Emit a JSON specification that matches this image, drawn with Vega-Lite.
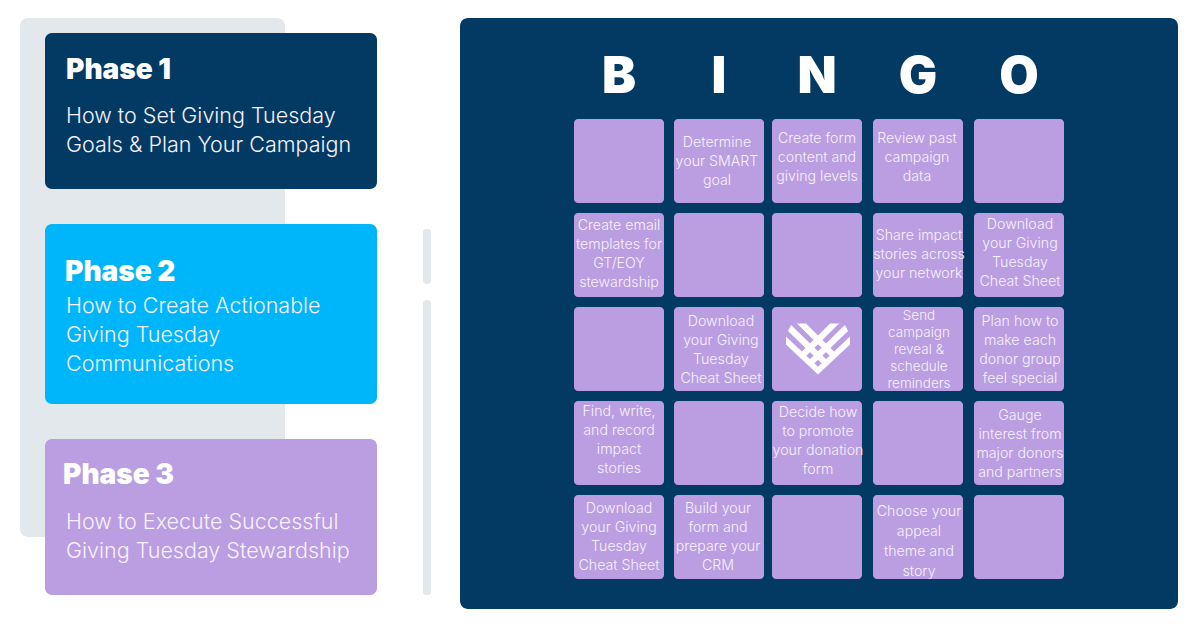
{
  "$schema": "https://vega.github.io/schema/vega-lite/v6.json",
  "width": 1200,
  "height": 628,
  "padding": 0,
  "autosize": {"type": "fit", "contains": "padding"},
  "background": "#ffffff",
  "config": {"view": {"stroke": null}},
  "datasets": {
    "unit": [{"from": 0, "to": 1}],
    "rails": [{"from": 0, "to": 1}, {"from": 2, "to": 3}],
    "phases": [
      {"phase": 1, "span": 1, "lines": 2, "heading": "Phase 1", "body": "How to Set Giving Tuesday\nGoals & Plan Your Campaign"},
      {"phase": 2, "span": 1, "lines": 3, "heading": "Phase 2", "body": "How to Create Actionable\nGiving Tuesday\nCommunications"},
      {"phase": 3, "span": 1, "lines": 2, "heading": "Phase 3", "body": "How to Execute Successful\nGiving Tuesday Stewardship"}
    ],
    "letters": [
      {"col": 1, "row": 0, "letter": "B"},
      {"col": 2, "row": 0, "letter": "I"},
      {"col": 3, "row": 0, "letter": "N"},
      {"col": 4, "row": 0, "letter": "G"},
      {"col": 5, "row": 0, "letter": "O"}
    ],
    "cells": [
      {"col": 1, "row": 1}, {"col": 2, "row": 1}, {"col": 3, "row": 1}, {"col": 4, "row": 1}, {"col": 5, "row": 1},
      {"col": 1, "row": 2}, {"col": 2, "row": 2}, {"col": 3, "row": 2}, {"col": 4, "row": 2}, {"col": 5, "row": 2},
      {"col": 1, "row": 3}, {"col": 2, "row": 3}, {"col": 3, "row": 3}, {"col": 4, "row": 3}, {"col": 5, "row": 3},
      {"col": 1, "row": 4}, {"col": 2, "row": 4}, {"col": 3, "row": 4}, {"col": 4, "row": 4}, {"col": 5, "row": 4},
      {"col": 1, "row": 5}, {"col": 2, "row": 5}, {"col": 3, "row": 5}, {"col": 4, "row": 5}, {"col": 5, "row": 5}
    ],
    "tasks": [
      {"col": 1.98, "row": 0.79, "lines": 3, "task": "Determine\nyour SMART\ngoal"},
      {"col": 3, "row": 0.745, "lines": 3, "task": "Create form\ncontent and\ngiving levels"},
      {"col": 3.99, "row": 0.745, "lines": 3, "task": "Review past\ncampaign\ndata"},
      {"col": 1, "row": 1.69, "lines": 4, "task": "Create email\ntemplates for\nGT/EOY\nstewardship"},
      {"col": 4.01, "row": 1.797, "lines": 3, "task": "Share impact\nstories across\nyour network"},
      {"col": 5.01, "row": 1.68, "lines": 4, "task": "Download\nyour Giving\nTuesday\nCheat Sheet"},
      {"col": 2.02, "row": 2.71, "lines": 4, "task": "Download\nyour Giving\nTuesday\nCheat Sheet"},
      {"col": 4.01, "row": 2.648, "lines": 5, "task": "Send\ncampaign\nreveal &\nschedule\nreminders"},
      {"col": 5.01, "row": 2.71, "lines": 4, "task": "Plan how to\nmake each\ndonor group\nfeel special"},
      {"col": 1, "row": 3.67, "lines": 4, "task": "Find, write,\nand record\nimpact\nstories"},
      {"col": 3.01, "row": 3.68, "lines": 4, "task": "Decide how\nto promote\nyour donation\nform"},
      {"col": 5.01, "row": 3.71, "lines": 4, "task": "Gauge\ninterest from\nmajor donors\nand partners"},
      {"col": 1, "row": 4.7, "lines": 4, "task": "Download\nyour Giving\nTuesday\nCheat Sheet"},
      {"col": 1.99, "row": 4.7, "lines": 4, "task": "Build your\nform and\nprepare your\nCRM"},
      {"col": 4.01, "row": 4.73, "lines": 4, "task": "Choose your\nappeal\ntheme and\nstory"}
    ],
    "logo": [{"col": 3, "row": 3}]
  },
  "resolve": {"scale": {"x": "independent", "y": "independent", "color": "independent", "size": "independent"}},
  "layer": [
    {
      "data": {"name": "unit"},
      "mark": {"type": "rect", "color": "#e3e8ec", "cornerRadius": 8},
      "encoding": {
        "x": {"field": "from", "type": "quantitative", "axis": null, "scale": {"domain": [0, 1], "range": [20, 285], "nice": false}},
        "x2": {"field": "to"},
        "y": {"field": "from", "type": "quantitative", "axis": null, "scale": {"domain": [0, 1], "range": [18, 537], "nice": false}},
        "y2": {"field": "to"}
      }
    },
    {
      "data": {"name": "rails"},
      "mark": {"type": "rect", "color": "#e3e8ec", "cornerRadius": 3},
      "encoding": {
        "x": {"datum": 0, "type": "quantitative", "axis": null, "scale": {"domain": [0, 1], "range": [423, 431], "nice": false}},
        "x2": {"datum": 1},
        "y": {"field": "from", "type": "quantitative", "axis": null, "scale": {"domain": [0, 1, 2, 3], "range": [229, 284, 300, 595], "nice": false}},
        "y2": {"field": "to"}
      }
    },
    {
      "data": {"name": "unit"},
      "mark": {"type": "rect", "color": "#033a63", "cornerRadius": 8},
      "encoding": {
        "x": {"field": "from", "type": "quantitative", "axis": null, "scale": {"domain": [0, 1], "range": [460, 1178], "nice": false}},
        "x2": {"field": "to"},
        "y": {"field": "from", "type": "quantitative", "axis": null, "scale": {"domain": [0, 1], "range": [18, 609], "nice": false}},
        "y2": {"field": "to"}
      }
    },
    {
      "data": {"name": "phases"},
      "mark": {"type": "bar", "orient": "horizontal", "cornerRadius": 7},
      "encoding": {
        "x": {"field": "span", "type": "quantitative", "axis": null, "scale": {"domain": [0, 1], "range": [45, 377], "nice": false}},
        "y": {"field": "phase", "type": "quantitative", "axis": null, "scale": {"domain": [1, 2, 3], "range": [111, 314, 517], "nice": false, "zero": false, "padding": 0}},
        "size": {"field": "lines", "type": "quantitative", "legend": null, "scale": {"domain": [2, 3], "range": [156, 180], "zero": false}},
        "color": {"field": "phase", "type": "nominal", "legend": null, "scale": {"domain": [1, 2, 3], "range": ["#033a63", "#00b6fb", "#bb9de2"]}}
      }
    },
    {
      "data": {"name": "phases"},
      "mark": {"type": "text", "align": "left", "baseline": "middle", "font": "Inter", "fontWeight": 900, "fontSize": 28, "color": "#ffffff"},
      "encoding": {
        "x": {"field": "phase", "type": "quantitative", "axis": null, "scale": {"domain": [1, 2, 3], "range": [66, 65, 63], "nice": false, "zero": false}},
        "y": {"field": "phase", "type": "quantitative", "axis": null, "scale": {"domain": [1, 2, 3], "range": [71, 273, 476], "nice": false, "zero": false}},
        "text": {"field": "heading", "type": "nominal"}
      }
    },
    {
      "data": {"name": "phases"},
      "mark": {"type": "text", "align": "left", "baseline": "middle", "font": "Inter", "fontWeight": 300, "fontSize": 21.5, "lineHeight": 29, "lineBreak": "\n", "color": "#f6f1fb"},
      "encoding": {
        "x": {"field": "span", "type": "quantitative", "axis": null, "scale": {"domain": [0, 1], "range": [0, 66], "nice": false}},
        "y": {"field": "phase", "type": "quantitative", "axis": null, "scale": {"domain": [1, 2, 3], "range": [117, 307, 523], "nice": false, "zero": false}},
        "text": {"field": "body", "type": "nominal"}
      }
    },
    {
      "data": {"name": "letters"},
      "mark": {"type": "text", "align": "center", "baseline": "middle", "font": "Inter", "fontWeight": 900, "fontSize": 51, "color": "#ffffff"},
      "encoding": {
        "x": {"field": "col", "type": "quantitative", "axis": null, "scale": {"domain": [1, 2, 3, 4, 5], "range": [619, 719, 817, 918, 1019], "nice": false, "zero": false}},
        "y": {"field": "row", "type": "quantitative", "axis": null, "scale": {"domain": [0, 1, 2, 3, 4, 5], "range": [78, 161, 255, 349, 443, 537], "nice": false, "zero": false}},
        "text": {"field": "letter", "type": "nominal"}
      }
    },
    {
      "data": {"name": "cells"},
      "mark": {"type": "rect", "width": 90, "height": 84, "color": "#bb9de2", "cornerRadius": 4},
      "encoding": {
        "x": {"field": "col", "type": "quantitative", "axis": null, "scale": {"domain": [1, 2, 3, 4, 5], "range": [619, 719, 817, 918, 1019], "nice": false, "zero": false}},
        "y": {"field": "row", "type": "quantitative", "axis": null, "scale": {"domain": [0, 1, 2, 3, 4, 5], "range": [75, 161, 255, 349, 443, 537], "nice": false, "zero": false}}
      }
    },
    {
      "data": {"name": "logo"},
      "mark": {"type": "point", "filled": true, "opacity": 1, "color": "#ffffff", "size": 4096, "shape": "M0,.797L.125,.672L-1,-.391L-1,-.141ZM.234,.5625L.367,.43L-.84,-.75L-.94,-.5625ZM.477,.32L.609,.1875L-.375,-.797L-.66,-.797ZM1,-.141L1,-.391L-.125,.672L0,.797ZM.94,-.5625L.84,-.75L-.367,.43L-.234,.5625ZM.66,-.797L.375,-.797L-.609,.1875L-.477,.32Z"},
      "encoding": {
        "x": {"field": "col", "type": "quantitative", "axis": null, "scale": {"domain": [1, 2, 3, 4, 5], "range": [619, 719, 818, 918, 1019], "nice": false, "zero": false}},
        "y": {"field": "row", "type": "quantitative", "axis": null, "scale": {"domain": [0, 1, 2, 3, 4, 5], "range": [75, 161, 255, 349, 443, 537], "nice": false, "zero": false}}
      }
    },
    {
      "data": {"name": "tasks"},
      "transform": [{"filter": "datum.lines < 5 && !test(/^Choose/, datum.task)"}],
      "mark": {"type": "text", "align": "center", "baseline": "middle", "font": "Inter", "fontWeight": 300, "fontSize": 14.2, "lineHeight": 19, "lineBreak": "\n", "color": "#f6f1fb"},
      "encoding": {
        "x": {"field": "col", "type": "quantitative", "axis": null, "scale": {"domain": [1, 2, 3, 4, 5], "range": [619, 719, 817, 918, 1019], "nice": false, "zero": false}},
        "y": {"field": "row", "type": "quantitative", "axis": null, "scale": {"domain": [0, 1, 2, 3, 4, 5], "range": [75, 161, 255, 349, 443, 537], "nice": false, "zero": false}},
        "text": {"field": "task", "type": "nominal"}
      }
    },
    {
      "data": {"name": "tasks"},
      "transform": [{"filter": "test(/^Choose/, datum.task)"}],
      "mark": {"type": "text", "align": "center", "baseline": "middle", "font": "Inter", "fontWeight": 300, "fontSize": 14.2, "lineHeight": 20, "lineBreak": "\n", "color": "#f6f1fb"},
      "encoding": {
        "x": {"field": "col", "type": "quantitative", "axis": null, "scale": {"domain": [1, 2, 3, 4, 5], "range": [619, 719, 817, 918, 1019], "nice": false, "zero": false}},
        "y": {"field": "row", "type": "quantitative", "axis": null, "scale": {"domain": [0, 1, 2, 3, 4, 5], "range": [75, 161, 255, 349, 443, 537], "nice": false, "zero": false}},
        "text": {"field": "task", "type": "nominal"}
      }
    },
    {
      "data": {"name": "tasks"},
      "transform": [{"filter": "datum.lines == 5"}],
      "mark": {"type": "text", "align": "center", "baseline": "middle", "font": "Inter", "fontWeight": 300, "fontSize": 13.5, "lineHeight": 17, "lineBreak": "\n", "color": "#f6f1fb"},
      "encoding": {
        "x": {"field": "col", "type": "quantitative", "axis": null, "scale": {"domain": [1, 2, 3, 4, 5], "range": [619, 719, 817, 918, 1019], "nice": false, "zero": false}},
        "y": {"field": "row", "type": "quantitative", "axis": null, "scale": {"domain": [0, 1, 2, 3, 4, 5], "range": [75, 161, 255, 349, 443, 537], "nice": false, "zero": false}},
        "text": {"field": "task", "type": "nominal"}
      }
    }
  ]
}
